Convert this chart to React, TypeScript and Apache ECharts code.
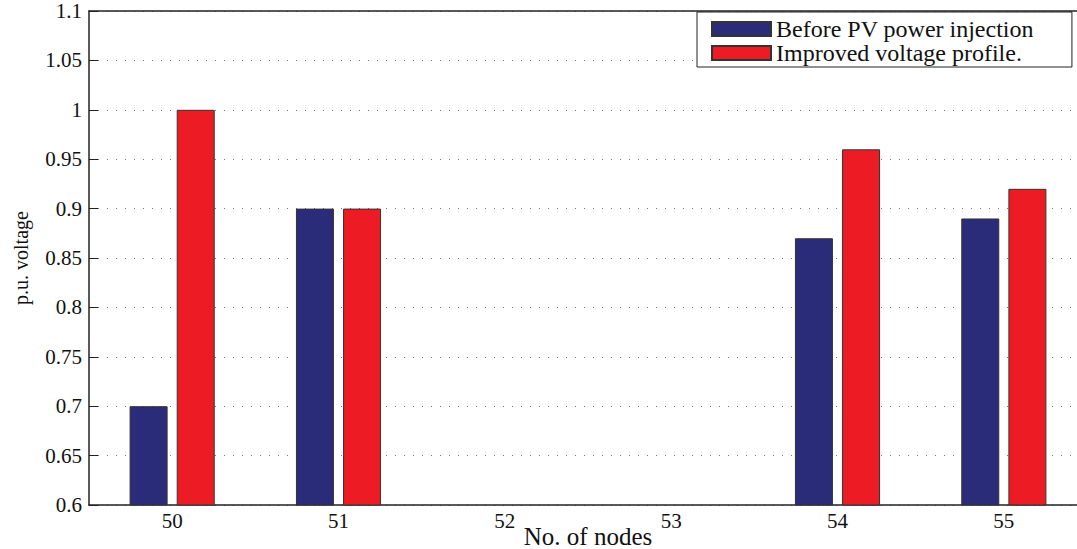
import React, { useEffect, useRef } from "react";
import * as echarts from "echarts";

const categories = ["50", "51", "52", "53", "54", "55"];
const beforePV = [0.7, 0.9, null, null, 0.87, 0.89];
const improved = [1.0, 0.9, null, null, 0.96, 0.92];
const seriesNames = ["Before PV power injection", "Improved voltage profile."];

const FONT = "Liberation Serif";

export default function App() {
  const ref = useRef<HTMLDivElement>(null);
  useEffect(() => {
    document.body.style.margin = "0";
    const chart = echarts.init(ref.current!, undefined, { renderer: "svg" });
    chart.setOption({
      animation: false,
      backgroundColor: "#fff",
      textStyle: { fontFamily: FONT },
      grid: { left: 89, top: 11, bottom: 44, right: -10, containLabel: false, outerBoundsMode: "none" },
      legend: {
        data: seriesNames,
        orient: "vertical",
        left: 697,
        top: 12,
        icon: "rect",
        itemWidth: 59,
        itemHeight: 14,
        itemGap: 0,
        padding: [5, 38, 2, 14],
        backgroundColor: "#fff",
        borderColor: "#222",
        borderWidth: 1,
        textStyle: { fontFamily: FONT, fontSize: 24, lineHeight: 24, color: "#111" },
        selectedMode: false,
      },
      xAxis: [
        {
          type: "category",
          data: categories,
          position: "bottom",
          name: "No. of nodes",
          nameLocation: "middle",
          nameGap: 19,
          nameMoveOverlap: false,
          nameTextStyle: { fontFamily: FONT, fontSize: 25, color: "#111" },
          axisLine: { lineStyle: { color: "#222", width: 1.5 } },
          axisTick: { inside: true, length: 7, alignWithLabel: true, lineStyle: { color: "#222" } },
          axisLabel: { fontFamily: FONT, fontSize: 21, color: "#111", margin: 5 },
          splitLine: { show: false },
        },
        {
          type: "category",
          data: categories,
          position: "top",
          axisLine: { lineStyle: { color: "#222", width: 1.5 } },
          axisTick: { inside: true, length: 7, alignWithLabel: true, lineStyle: { color: "#222" } },
          axisLabel: { show: false },
          splitLine: { show: false },
        },
      ],
      yAxis: {
        type: "value",
        min: 0.6,
        max: 1.1,
        interval: 0.05,
        name: "p.u. voltage",
        nameLocation: "middle",
        nameGap: 58,
        nameRotate: 90,
        nameMoveOverlap: false,
        nameTextStyle: { fontFamily: FONT, fontSize: 20, color: "#111" },
        axisLine: { show: true, lineStyle: { color: "#222", width: 1.5 } },
        axisTick: { show: true, inside: true, length: 9, lineStyle: { color: "#222" } },
        axisLabel: { fontFamily: FONT, fontSize: 21, color: "#111", margin: 7 },
        splitLine: { show: true, lineStyle: { color: "#777", width: 1, type: [1, 8] } },
      },
      series: [
        {
          name: seriesNames[0],
          type: "bar",
          data: beforePV,
          barWidth: 38,
          barGap: "24%",
          itemStyle: { color: "#2A2C7A", borderColor: "#333", borderWidth: 1 },
        },
        {
          name: seriesNames[1],
          type: "bar",
          data: improved,
          barWidth: 38,
          itemStyle: { color: "#ED1C24", borderColor: "#333", borderWidth: 1 },
        },
      ],
    });
    return () => chart.dispose();
  }, []);
  return <div ref={ref} style={{ width: 1077, height: 549 }} />;
}
